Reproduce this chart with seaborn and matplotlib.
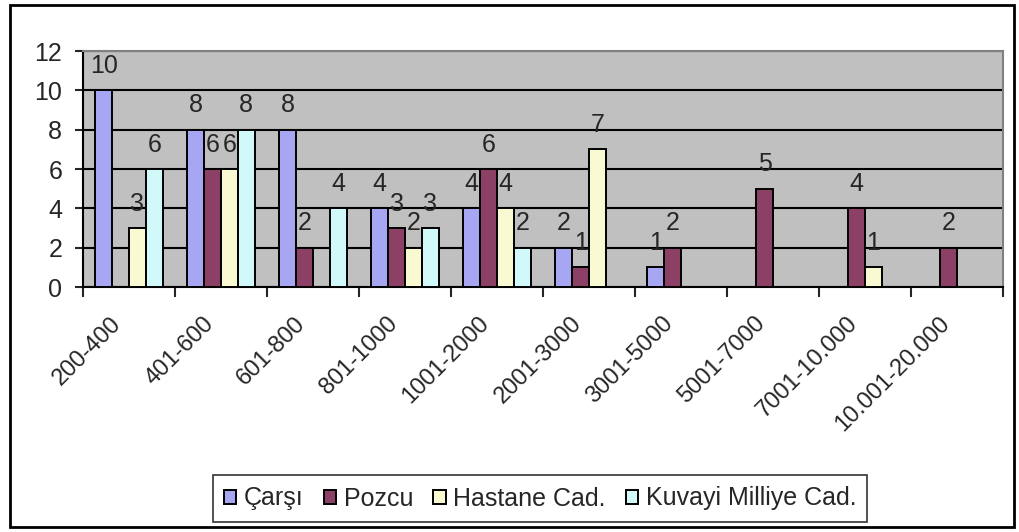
import numpy as np
import pandas as pd
import matplotlib
matplotlib.use("Agg")
import matplotlib.pyplot as plt
import matplotlib.transforms as mtransforms
import seaborn as sns
from matplotlib.patches import Rectangle

# veriler
araliklar = ["200-400", "401-600", "601-800", "801-1000", "1001-2000",
             "2001-3000", "3001-5000", "5001-7000", "7001-10.000", "10.001-20.000"]
carsi = [10, 8, 8, 4, 4, 2, 1, 0, 0, 0]
pozcu = [0, 6, 2, 3, 6, 1, 2, 5, 4, 2]
hastane = [3, 6, 0, 2, 4, 7, 0, 0, 1, 0]
kuvayi = [6, 8, 4, 3, 2, 0, 0, 0, 0, 0]

seriler = ["Çarşı", "Pozcu", "Hastane Cad.", "Kuvayi Milliye Cad."]
renkler = ["#9999FF", "#993366", "#FFFFCC", "#CCFFFF"]

df = pd.DataFrame({
    "ARALIK": araliklar * 4,
    "SERI": sum([[s] * len(araliklar) for s in seriler], []),
    "ADET": carsi + pozcu + hastane + kuvayi,
})

sns.set_style("white")
plt.rcParams["font.family"] = ["Liberation Sans", "DejaVu Sans"]
fs = 18

fig = plt.figure(figsize=(10.19, 5.32), dpi=100)
ax = fig.add_axes([0.0815, 0.4605, 0.9028, 0.4435])
ax.set_facecolor("#C0C0C0")

sns.barplot(data=df, x="ARALIK", y="ADET", hue="SERI", order=araliklar,
            hue_order=seriler, palette=renkler, width=0.73, gap=0,
            edgecolor="black", linewidth=1.4, errorbar=None, ax=ax,
            legend=True, zorder=3)

# deger etiketleri (sifirlar yok)
for cont in ax.containers:
    etiketler = [("%d" % b.get_height()) if b.get_height() > 0 else "" for b in cont]
    ax.bar_label(cont, labels=etiketler, padding=9, fontsize=fs)

ax.set_ylim(0, 12)
ax.set_xlim(-0.5, len(araliklar) - 0.5)
ax.set_yticks(range(0, 13, 2))
ax.yaxis.grid(True, color="black", linewidth=1.5, zorder=0)
ax.set_axisbelow(True)
ax.set_xlabel("")
ax.set_ylabel("")

ax.tick_params(axis="y", labelsize=fs, length=6, width=1.5, direction="out", left=True, pad=9)
ax.set_xticks(range(len(araliklar)))
ax.set_xticklabels(araliklar, rotation=45, ha="right", va="center",
                   rotation_mode="anchor", fontsize=17)
ax.tick_params(axis="x", which="major", length=0, pad=24)
kaydir = mtransforms.ScaledTranslation(-11 / 100, 0, fig.dpi_scale_trans)
for t in ax.get_xticklabels():
    t.set_transform(t.get_transform() + kaydir)
ax.set_xticks(np.arange(-0.5, len(araliklar)), minor=True)
ax.tick_params(axis="x", which="minor", length=7, width=1.5, direction="out", bottom=True)

for s in ["left", "bottom"]:
    ax.spines[s].set_color("black")
    ax.spines[s].set_linewidth(1.5)
for s in ["top", "right"]:
    ax.spines[s].set_color("#808080")
    ax.spines[s].set_linewidth(1.5)

ax.get_legend().remove()
h, l = ax.get_legend_handles_labels()
leg = fig.legend(h, l, loc="center", bbox_to_anchor=(540 / 1019, 1 - 498.5 / 532), ncol=4,
                 fontsize=fs, frameon=True, fancybox=False, handlelength=0.5,
                 handleheight=0.5, handletextpad=0.3, columnspacing=0.8,
                 borderpad=0.45, borderaxespad=0)
leg.get_frame().set_edgecolor("black")
leg.get_frame().set_linewidth(1.2)

# dis cerceve
fig.patches.append(Rectangle((10 / 1019, 5 / 532), 1004 / 1019, 522 / 532,
                             transform=fig.transFigure, fill=False,
                             edgecolor="black", linewidth=2))

fig.savefig("out.png", dpi=100)
